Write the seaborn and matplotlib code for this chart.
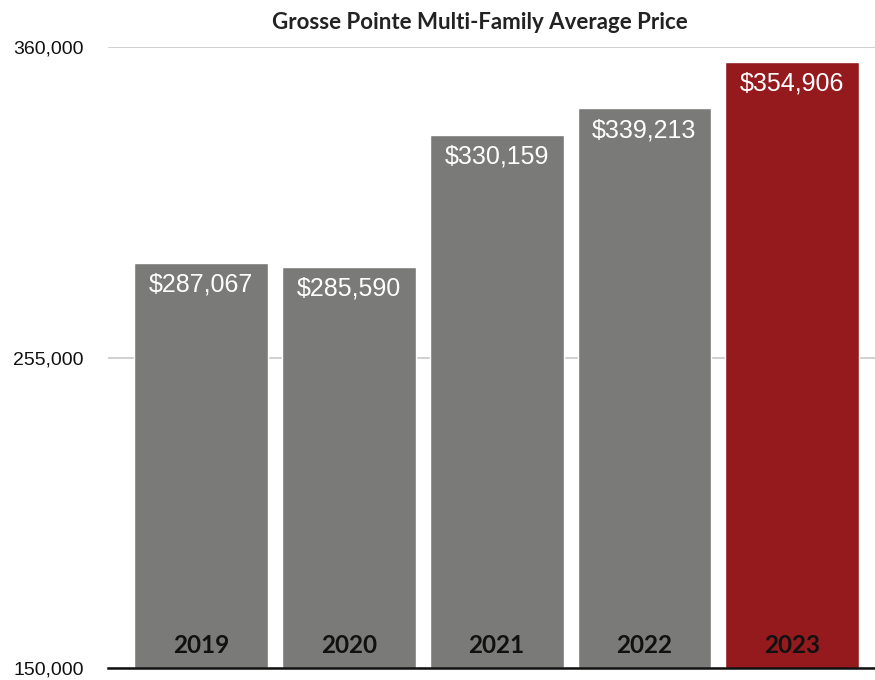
import matplotlib
matplotlib.use("Agg")
import matplotlib.pyplot as plt
import seaborn as sns
import pandas as pd

years = ["2019", "2020", "2021", "2022", "2023"]
avg_price = [287067, 285590, 330159, 339213, 354906]
bar_colors = ["#7a7a78", "#7a7a78", "#7a7a78", "#7a7a78", "#951a1e"]
y_ticks = [150000, 255000, 360000]

sns.set_theme(style="white")
plt.rcParams["font.family"] = ["Liberation Sans", "DejaVu Sans"]

df = pd.DataFrame({"year": years, "price": avg_price})

fig = plt.figure(figsize=(8.75, 6.8), dpi=100)
ax = fig.add_axes([0.1234, 0.0176, 0.8766, 0.9133])

sns.barplot(data=df, x="year", y="price", hue="year",
            palette=dict(zip(years, bar_colors)), width=0.905,
            saturation=1, legend=False, ax=ax, zorder=2)

ax.set_ylim(y_ticks[0], y_ticks[-1])
ax.set_xlim(-0.63, 4.56)
ax.set_yticks(y_ticks)
ax.set_yticklabels([f"{t:,}" for t in y_ticks], fontsize=14, color="#111111")
ax.tick_params(axis="y", length=0, pad=17.5)
ax.tick_params(axis="x", length=0)
ax.set_xticklabels([])
ax.set_xlabel("")
ax.set_ylabel("")

ax.yaxis.grid(True, color="#c8c8c8", linewidth=1.2, zorder=0)
for side in ["top", "right", "left"]:
    ax.spines[side].set_visible(False)
ax.spines["bottom"].set_color("#111111")
ax.spines["bottom"].set_linewidth(1.8)
ax.spines["bottom"].set_zorder(3)

for i, (yr, v) in enumerate(zip(years, avg_price)):
    ax.annotate(f"${v:,}", xy=(i, v), xytext=(0, -7), textcoords="offset points",
                ha="center", va="top", color="white", fontsize=18)
    ax.annotate(yr, xy=(i, y_ticks[0]), xytext=(0, 16), textcoords="offset points",
                ha="center", va="center", color="#111111", fontsize=17.5,
                fontweight="bold", family=["Lato", "DejaVu Sans"])

fig.text(0.548, 0.967, "Grosse Pointe Multi-Family Average Price",
         ha="center", va="center", fontsize=16, fontweight="bold",
         color="#222222", family=["Lato", "DejaVu Sans"])

fig.savefig("out.png", dpi=100)
